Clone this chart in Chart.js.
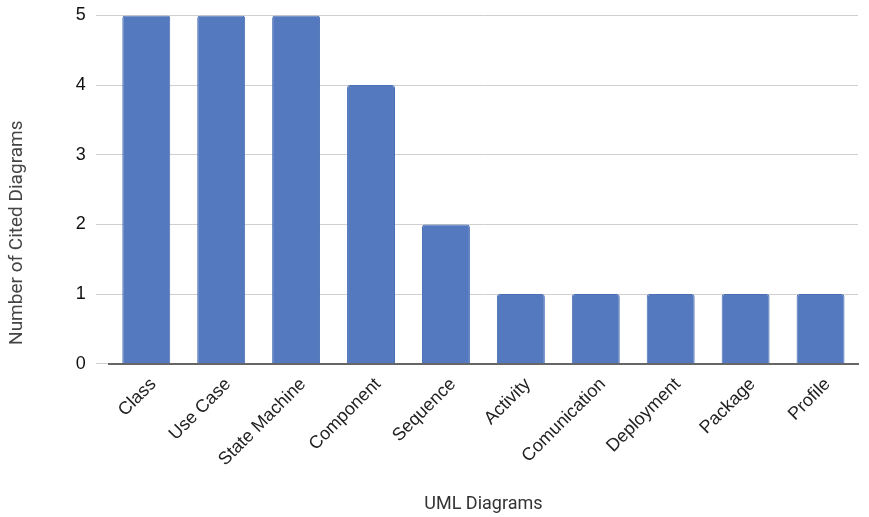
<!DOCTYPE html>
<html>
<head>
<meta charset="utf-8">
<script src="https://cdn.jsdelivr.net/npm/chart.js@4"></script>
<style>
  html, body { margin: 0; padding: 0; background: #fff; }
  #wrap { width: 869px; height: 517px; }
</style>
</head>
<body>
<div id="wrap"><canvas id="chart" width="869" height="517"></canvas></div>
<script>
// 图表数据
const categories = ['Class', 'Use Case', 'State Machine', 'Component', 'Sequence',
    'Activity', 'Comunication', 'Deployment', 'Package', 'Profile'];
const citedCounts = [5, 5, 5, 4, 2, 1, 1, 1, 1, 1];
const yTicks = [0, 1, 2, 3, 4, 5];

const ctx = document.getElementById('chart').getContext('2d');

window.umlChart = new Chart(ctx, {
    type: 'bar',
    data: {
        labels: categories,
        datasets: [
            {
                label: 'Number of Cited Diagrams',
                data: citedCounts,
                backgroundColor: '#5479BE',
                borderColor: '#4B6FB4',
                borderWidth: 1,
                borderRadius: { topLeft: 3, topRight: 3 },
                borderSkipped: 'bottom',
                barPercentage: 0.64,
                categoryPercentage: 1
            }
        ]
    },
    options: {
        responsive: false,
        animation: false,
        layout: {
            padding: { top: 0, right: 11, bottom: 2, left: 6 }
        },
        scales: {
            x: {
                grid: { display: false },
                border: { color: '#666', width: 2 },
                ticks: {
                    color: '#222',
                    font: { family: 'Liberation Sans', size: 18 },
                    minRotation: 45,
                    maxRotation: 45,
                    labelOffset: 7,
                    padding: 2
                },
                title: {
                    display: true,
                    text: 'UML Diagrams',
                    color: '#333',
                    font: { family: 'Roboto', size: 18 },
                    padding: { top: 21, bottom: 0 }
                }
            },
            y: {
                min: 0,
                max: 5,
                afterBuildTicks: (scale) => {
                    scale.ticks = yTicks.map(v => ({ value: v }));
                },
                grid: {
                    color: '#d0d0d0',
                    lineWidth: 1,
                    tickLength: 13
                },
                border: { display: false },
                ticks: {
                    color: '#111',
                    font: { family: 'Liberation Sans', size: 18, lineHeight: 0.6 },
                    padding: 10
                },
                title: {
                    display: true,
                    // 标题下端略高于x轴
                    text: '    Number of Cited Diagrams',
                    align: 'start',
                    color: '#444',
                    font: { family: 'Roboto', size: 19 },
                    padding: { top: 0, bottom: 37 }
                }
            }
        },
        plugins: {
            legend: { display: false },
            tooltip: { enabled: false }
        }
    }
});
</script>
</body>
</html>
